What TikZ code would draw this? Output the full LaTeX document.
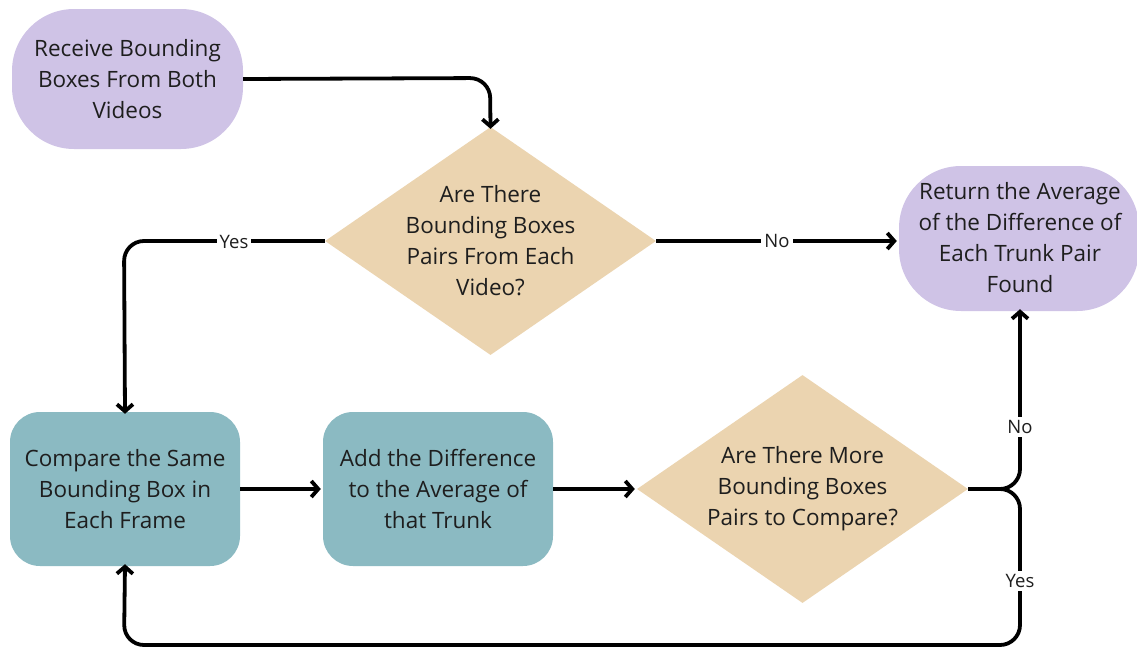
\documentclass[tikz,border=0pt]{standalone}
\usepackage{fontspec}
\setmainfont{Open Sans}
\usetikzlibrary{shapes.geometric,arrows.meta}
\definecolor{lilac}{HTML}{CFC3E6}
\definecolor{sand}{HTML}{EBD4B0}
\definecolor{teal}{HTML}{8BBAC2}
\definecolor{ink}{HTML}{1E1E1E}
\tikzset{
  txt/.style={font=\fontsize{22.5}{31}\selectfont, text=ink, align=center, inner sep=0pt},
  term/.style={fill=lilac, rounded corners=62pt, minimum width=231pt, minimum height=140pt},
  proc/.style={fill=teal, rounded corners=30pt, minimum width=230pt, minimum height=154pt},
  decide/.style={diamond, fill=sand, minimum width=331pt, minimum height=228pt, inner sep=0pt},
  flow/.style={draw=black, line width=3.8pt, rounded corners=20pt,
    -{Straight Barb[length=7pt,width=16pt,line width=3.8pt]}},
  lab/.style={fill=white, font=\fontsize{18.5}{20}\selectfont, text=ink, inner sep=3pt},
}
\begin{document}
\begin{tikzpicture}[x=1pt,y=-1pt]
\useasboundingbox (0,0) rectangle (1137,648);

% nodes
\node[term] (start) at (127.5,79) {};
\node[txt] at (start) {Receive Bounding\\Boxes From Both\\Videos};

\node[decide] (q1) at (490.5,241) {};
\node[txt] at (q1) {Are There\\Bounding Boxes\\Pairs From Each\\Video?};

\node[term, minimum width=240pt, minimum height=145pt] (done) at (1019,238.5) {};
\node[txt] at (1020,237.5) {Return the Average\\of the Difference of\\Each Trunk Pair\\Found};

\node[proc] (cmp) at (125,489) {};
\node[txt] at (cmp) {Compare the Same\\Bounding Box in\\Each Frame};

\node[proc] (add) at (438,489) {};
\node[txt] at (add) {Add the Difference\\to the Average of\\that Trunk};

\node[decide] (q2) at (802.5,489) {};
\node[txt] at (q2) {Are There More\\Bounding Boxes\\Pairs to Compare?};

% split point to the right of the second decision
\coordinate (fork) at (1020,489);

% connectors
\draw[flow] (start.east) -- (490,78) -- ([yshift=-2pt]q1.north);
\draw[flow] (q1.west) -- (124,241) -- ([yshift=-2pt]cmp.north);
\draw[flow] (q1.east) -- ([xshift=-2pt]done.west |- q1.east);
\draw[flow] (cmp.east) -- ([xshift=-2pt]add.west);
\draw[flow] (add.east) -- ([xshift=-2pt]q2.west);
\draw[flow] (q2.east) -- (fork) -- ([yshift=2pt]fork |- done.south);
\draw[flow] (q2.east) -- (fork) -- (1020,645) -- (124,645) -- ([yshift=2pt]cmp.south);

% branch labels
\node[lab] (y1) at (234,242) {Yes};
\node[lab] (n1) at (777,241) {No};
\node[lab] (n2) at (1020,427) {No};
\node[lab] (y2) at (1020,581) {Yes};
\end{tikzpicture}
\end{document}
